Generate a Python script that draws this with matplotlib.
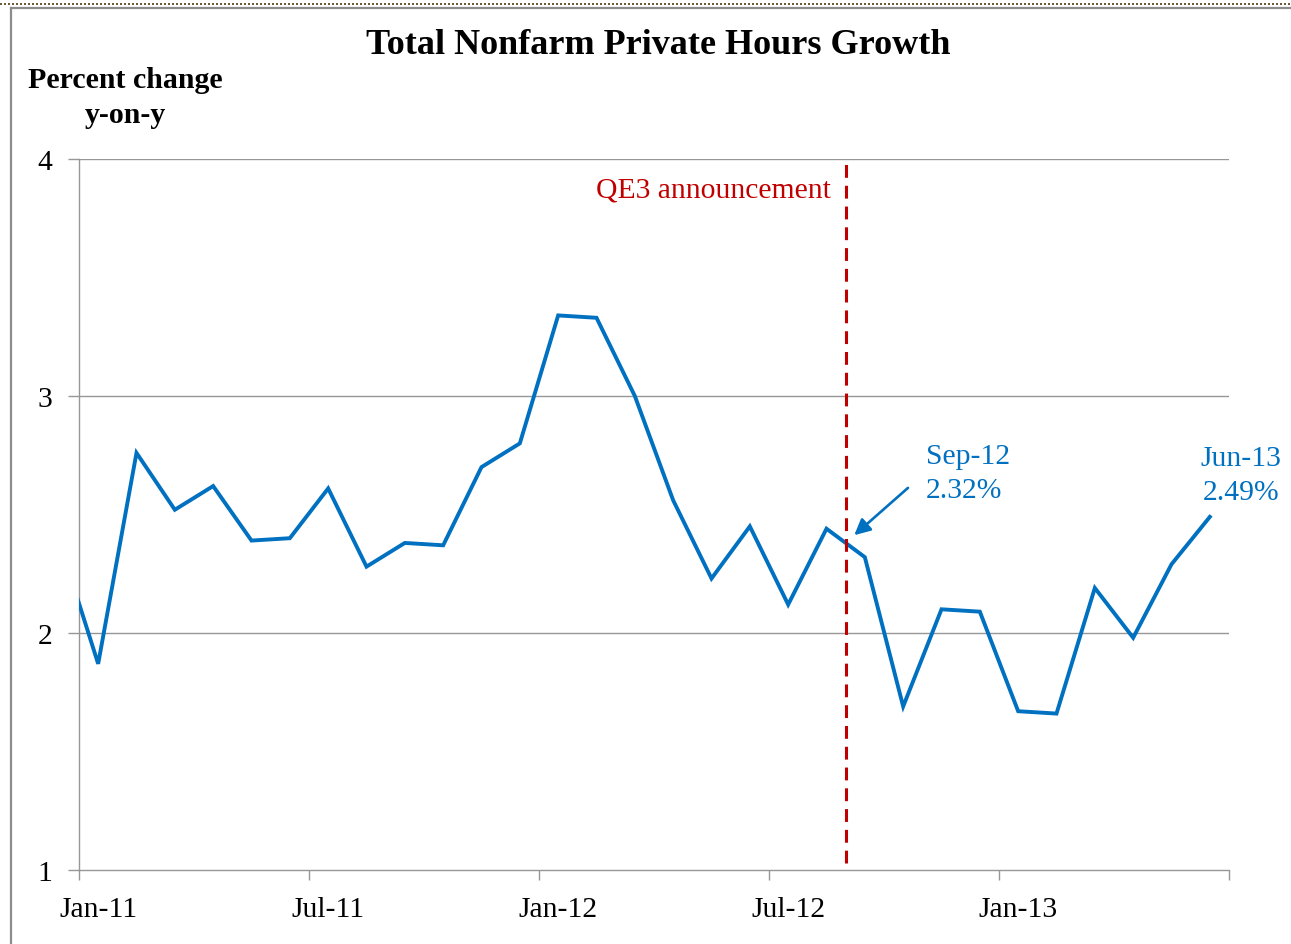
import numpy as np
import pandas as pd
import matplotlib.pyplot as plt
from matplotlib.lines import Line2D

plt.rcParams['font.family'] = ['Liberation Serif', 'DejaVu Serif']

# monthly y-on-y growth, Dec-10 .. Jun-13 (Dec-10 sits just left of the axis)
months = pd.date_range('2010-12-01', periods=31, freq='MS')
hours_growth = [2.38,
                1.87, 2.76, 2.52, 2.62, 2.39, 2.40, 2.61, 2.28, 2.38, 2.37, 2.70, 2.80,
                3.34, 3.33, 3.00, 2.56, 2.23, 2.45, 2.12, 2.44, 2.32, 1.69, 2.10, 2.09,
                1.67, 1.66, 2.19, 1.98, 2.29, 2.49]
tick_labels = ['Jan-11', 'Jul-11', 'Jan-12', 'Jul-12', 'Jan-13']
y_ticks = [1, 2, 3, 4]
qe3_month = '2012-09'

BLUE = '#0070C0'
RED = '#C00000'
GRAY = '#979797'
FS = 21.3

# category index: Jan-11 = 0
idx = np.arange(len(months)) - 1
pos = {m.strftime('%Y-%m'): i for m, i in zip(months, idx)}

fig = plt.figure(figsize=(12.91, 9.45), dpi=100)
ax = fig.add_axes([79 / 1291, 74 / 945, 1150 / 1291, 711 / 945])

ax.plot(idx, hours_growth, color=BLUE, lw=2.8, solid_joinstyle='miter', zorder=3)

ax.set_xlim(-0.5, 29.5)
ax.set_ylim(1, 4)

# gridlines + axes in excel style
ax.set_yticks(y_ticks)
ax.set_yticklabels([str(t) for t in y_ticks])
for t in y_ticks[1:]:
    ax.axhline(t, color=GRAY, lw=1.0, zorder=1)
for s in ['top', 'right']:
    ax.spines[s].set_visible(False)
for s in ['left', 'bottom']:
    ax.spines[s].set_color(GRAY)
    ax.spines[s].set_linewidth(1.0)

ax.set_xticks(np.arange(-0.5, 30, 6))
ax.set_xticklabels([])
ax.set_xticks([pos[m.strftime('%Y-%m')] for m in months if m.month in (1, 7)], minor=True)
ax.set_xticklabels(tick_labels, minor=True)
ax.tick_params(axis='x', which='major', length=7, width=1, color=GRAY, direction='out')
ax.tick_params(axis='x', which='minor', length=0, pad=19, labelsize=FS)
ax.tick_params(axis='y', length=8, width=1, color=GRAY, pad=11, labelsize=FS)

# QE3 marker between Aug-12 and Sep-12
qx = pos[qe3_month] - 0.5
ax.axvline(qx, ymin=0.01, ymax=1, color=RED, lw=2.2, dashes=(4.2, 2.6), zorder=4)
ax.text(qx - 0.38, 3.87, 'QE3 announcement', color=RED, fontsize=FS,
        ha='right', va='center')

# callouts
sep = pos['2012-09']
ax.annotate('', xy=(sep - 0.33, 2.405), xytext=(sep + 1.18, 2.62),
            arrowprops=dict(arrowstyle='-|>', color=BLUE, lw=1.9, mutation_scale=24))
ax.text(sep + 1.6, 2.677, 'Sep-12\n2.32%', color=BLUE, fontsize=FS,
        ha='left', va='center', linespacing=1.4)
ax.text(29.81, 2.665, 'Jun-13\n2.49%', color=BLUE, fontsize=FS,
        ha='center', va='center', linespacing=1.4, clip_on=False)

fig.text(658 / 1291, 1 - 45 / 945, 'Total Nonfarm Private Hours Growth',
         fontsize=26, fontweight='bold', ha='center', va='center')
fig.text(125 / 1291, 1 - 98 / 945, 'Percent change\ny-on-y', fontsize=21.5,
         fontweight='bold', ha='center', va='center', linespacing=1.42)

# frame lines
fig.add_artist(Line2D([11 / 1291, 11 / 1291], [0, 1 - 9 / 945], color='#8c8c8c', lw=1.6))
fig.add_artist(Line2D([11 / 1291, 1], [1 - 9 / 945, 1 - 9 / 945], color='#8c8c8c', lw=1.6))
fig.add_artist(Line2D([0, 1], [1 - 5 / 945, 1 - 5 / 945], color='#6e5a3a', lw=1.44,
                      dashes=(1, 1)))

fig.savefig('out.png', dpi=100)
